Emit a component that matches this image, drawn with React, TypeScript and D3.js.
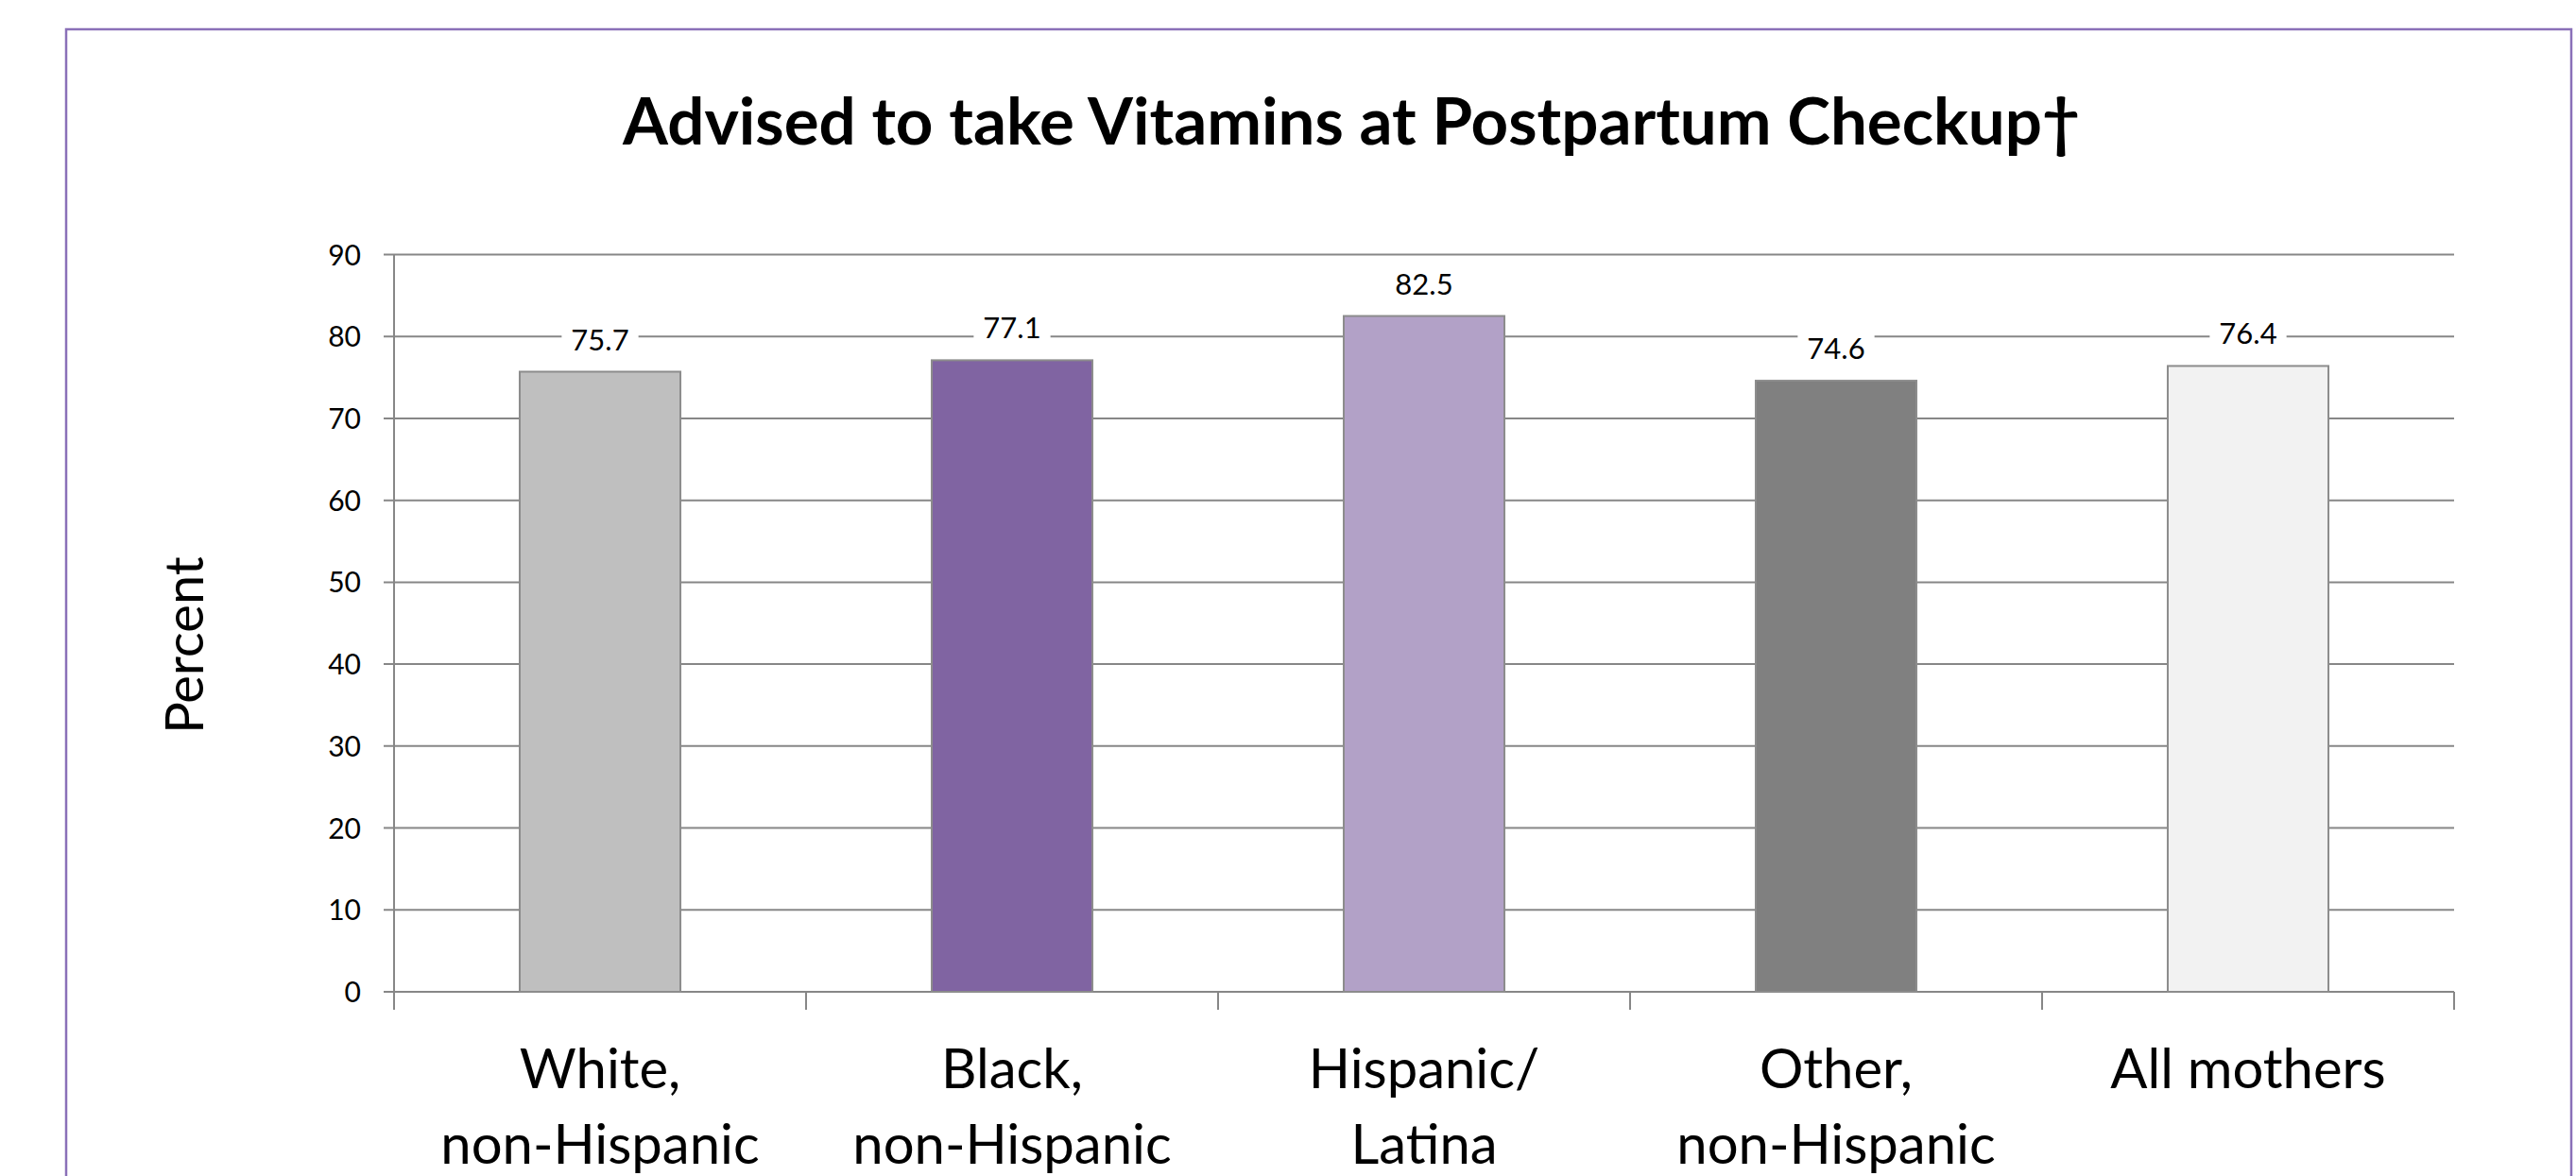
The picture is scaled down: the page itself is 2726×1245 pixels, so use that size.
import React, { useEffect, useRef } from 'react';
import * as d3 from 'd3';

const categories = [
  ['White,', 'non-Hispanic'],
  ['Black,', 'non-Hispanic'],
  ['Hispanic/', 'Latina'],
  ['Other,', 'non-Hispanic'],
  ['All mothers'],
];
const values = [75.7, 77.1, 82.5, 74.6, 76.4];
const barColors = ['#BFBFBF', '#8064A2', '#B2A1C7', '#808080', '#F2F2F2'];
const yTicks = [0, 10, 20, 30, 40, 50, 60, 70, 80, 90];
const title = 'Advised to take Vitamins at Postpartum Checkup\u2020';
const yTitle = 'Percent';

const W = 2726;
const H = 1245;
const FONT = 'Lato, "Open Sans", sans-serif';

const App: React.FC = () => {
  const svgRef = useRef<SVGSVGElement>(null);

  useEffect(() => {
    if (!svgRef.current) return;
    const svg = d3.select(svgRef.current);
    svg.selectAll('*').remove();

    // plot area
    const left = 417;
    const right = 2597;
    const top = 269.5;
    const bottom = 1050;

    const x = d3.scaleBand<number>()
      .domain(d3.range(values.length))
      .range([left, right])
      .padding(0);
    const y = d3.scaleLinear().domain([0, 90]).range([bottom, top]);
    const barW = x.bandwidth() * 0.39;

    // outer frame
    svg.append('rect')
      .attr('x', 70).attr('y', 31)
      .attr('width', 2651).attr('height', 1400)
      .attr('fill', 'white')
      .attr('stroke', '#8A70B8')
      .attr('stroke-width', 2.5);

    // title
    svg.append('text')
      .attr('x', 1430).attr('y', 153)
      .attr('text-anchor', 'middle')
      .attr('font-family', FONT)
      .attr('font-weight', 'bold')
      .attr('font-size', 69)
      .attr('fill', '#000')
      .text(title);

    // gridlines
    svg.append('g')
      .selectAll('line')
      .data(yTicks)
      .join('line')
      .attr('x1', left - 11).attr('x2', right)
      .attr('y1', d => y(d)).attr('y2', d => y(d))
      .attr('stroke', '#878787')
      .attr('stroke-width', 2);

    // y axis line
    svg.append('line')
      .attr('x1', left).attr('x2', left)
      .attr('y1', top).attr('y2', bottom)
      .attr('stroke', '#878787').attr('stroke-width', 2);

    // x ticks at band boundaries
    const edges = d3.range(values.length + 1).map(i => left + i * x.step());
    svg.append('g')
      .selectAll('line')
      .data(edges)
      .join('line')
      .attr('x1', d => d).attr('x2', d => d)
      .attr('y1', bottom).attr('y2', bottom + 19)
      .attr('stroke', '#878787').attr('stroke-width', 2);

    // y tick labels
    svg.append('g')
      .selectAll('text')
      .data(yTicks)
      .join('text')
      .attr('x', 382)
      .attr('y', d => y(d) + 11)
      .attr('text-anchor', 'end')
      .attr('font-family', FONT)
      .attr('font-size', 30)
      .attr('fill', '#000')
      .text(d => d);

    // bars
    svg.append('g')
      .selectAll('rect')
      .data(values)
      .join('rect')
      .attr('x', (d, i) => (x(i) as number) + x.bandwidth() / 2 - barW / 2)
      .attr('y', d => y(d))
      .attr('width', barW)
      .attr('height', d => bottom - y(d))
      .attr('fill', (d, i) => barColors[i])
      .attr('stroke', '#8C8C8C')
      .attr('stroke-width', 2);

    // value labels with white knockout
    const labels = svg.append('g');
    values.forEach((v, i) => {
      const cx = (x(i) as number) + x.bandwidth() / 2;
      const by = y(v) - 23;
      const bg = labels.append('rect').attr('fill', 'white');
      const t = labels.append('text')
        .attr('x', cx).attr('y', by)
        .attr('text-anchor', 'middle')
        .attr('font-family', FONT)
        .attr('font-size', 31)
        .attr('fill', '#000')
        .text(v.toFixed(1));
      const bb = (t.node() as SVGTextElement).getBBox();
      bg.attr('x', bb.x - 10).attr('y', bb.y)
        .attr('width', bb.width + 20).attr('height', bb.height);
    });

    // category labels
    const cat = svg.append('g');
    categories.forEach((lines, i) => {
      const cx = (x(i) as number) + x.bandwidth() / 2;
      const t = cat.append('text')
        .attr('text-anchor', 'middle')
        .attr('font-family', FONT)
        .attr('font-size', 58)
        .attr('fill', '#000');
      lines.forEach((ln, j) => {
        t.append('tspan')
          .attr('x', cx)
          .attr('y', 1152 + j * 80)
          .text(ln);
      });
    });

    // y axis title
    svg.append('text')
      .attr('transform', 'translate(215,683) rotate(-90)')
      .attr('text-anchor', 'middle')
      .attr('font-family', FONT)
      .attr('font-size', 56)
      .attr('fill', '#000')
      .text(yTitle);
  }, []);

  return (
    <svg
      ref={svgRef}
      width={W}
      height={H}
      style={{ position: 'fixed', left: 0, top: 0, background: 'white' }}
    />
  );
};

export default App;
